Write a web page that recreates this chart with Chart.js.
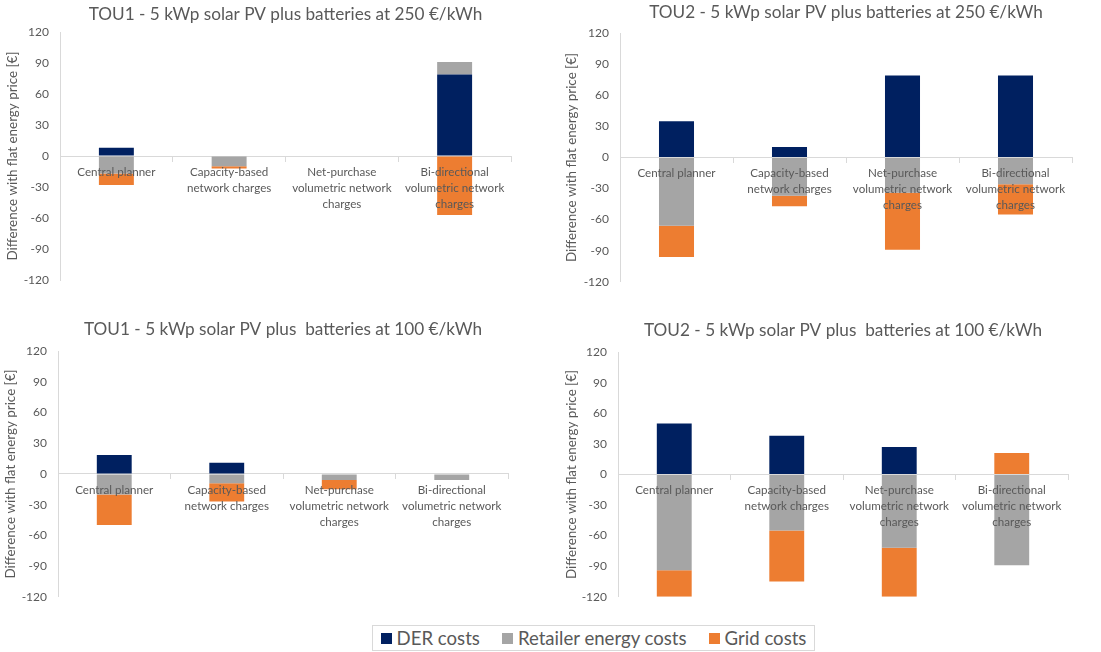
<!DOCTYPE html>
<html>
<head>
<meta charset="utf-8">
<script src="https://cdn.jsdelivr.net/npm/chart.js@4.4.0/dist/chart.umd.min.js"></script>
<style>
  body { margin: 0; background: #fff; width: 1101px; height: 652px; position: relative; overflow: hidden; font-family: Lato, sans-serif; }
  .panel { position: absolute; width: 550px; height: 300px; }
  .legend { position: absolute; left: 372px; top: 625px; width: 441px; height: 24px; border: 1px solid #D9D9D9;
            display: flex; align-items: center; justify-content: center; gap: 22px; color: #595959; font-size: 18.6px; }
  .legend span.sw { display: inline-block; width: 11px; height: 11px; margin-right: 5px; vertical-align: 1px; }
</style>
</head>
<body>
<div class="panel" style="left:0;top:0"><canvas id="c1"></canvas></div>
<div class="panel" style="left:550px;top:0"><canvas id="c2"></canvas></div>
<div class="panel" style="left:0;top:315px"><canvas id="c3"></canvas></div>
<div class="panel" style="left:550px;top:315px"><canvas id="c4"></canvas></div>
<div class="legend">
  <div><span class="sw" style="background:#002060"></span>DER costs</div>
  <div><span class="sw" style="background:#A5A5A5"></span>Retailer energy costs</div>
  <div><span class="sw" style="background:#ED7D31"></span>Grid costs</div>
</div>

<script>
// categories shared by all four charts
const categories = [
  ['Central planner'],
  ['Capacity-based', 'network charges'],
  ['Net-purchase', 'volumetric network', 'charges'],
  ['Bi-directional', 'volumetric network', 'charges']
];
const seriesNames = ['DER costs', 'Retailer energy costs', 'Grid costs'];
const yMin = -120, yMax = 120, yStep = 30;
const yTitle = 'Difference with flat energy price [€]';

// TOU1 - 250 €/kWh
const der1 = [8, 0, 0, 79];
const ret1 = [-17, -10, 0, 12];
const grid1 = [-11, -2, 0, -57];
// TOU2 - 250 €/kWh
const der2 = [35, 10, 79, 79];
const ret2 = [-66, -37, -34, -26];
const grid2 = [-30, -10, -55, -29];
// TOU1 - 100 €/kWh
const der3 = [18.5, 11, 0, 0];
const ret3 = [-20, -9, -6, -6];
const grid3 = [-30, -18, -9, 0];
// TOU2 - 100 €/kWh
const der4 = [50, 38, 27, 0];
const ret4 = [-94, -55, -72, -89];
const grid4 = [-26, -50, -48, 21];

const colors = ['#002060', '#A5A5A5', '#ED7D31'];
const txt = '#595959';
const line = '#D9D9D9';

function makeChart(id, title, series, p) {
  new Chart(document.getElementById(id), {
    type: 'bar',
    data: {
      labels: categories,
      datasets: series.map((d, i) => ({
        label: seriesNames[i],
        data: d,
        backgroundColor: colors[i],
        borderWidth: 0,
        categoryPercentage: 1,
        barPercentage: 0.31
      }))
    },
    options: {
      responsive: true,
      maintainAspectRatio: false,
      animation: false,
      layout: { padding: { left: 0, right: p.right, top: 0, bottom: p.bottom } },
      scales: {
        x: {
          stacked: true,
          position: { y: 0 },
          grid: { offset: true, drawOnChartArea: false, tickLength: 5, color: line },
          border: { color: line },
          ticks: { z: 1, color: txt, font: { family: 'Lato', size: 11.6, lineHeight: 1.38 }, maxRotation: 0, autoSkip: false, padding: 3 }
        },
        y: {
          stacked: true,
          min: yMin,
          max: yMax,
          ticks: { stepSize: yStep, color: txt, font: { family: 'Lato', size: 12 }, padding: 11 },
          grid: { drawOnChartArea: false, drawTicks: false },
          border: { color: line },
          title: { display: true, text: yTitle, color: txt, font: { family: 'Lato', size: 13.4 }, padding: { top: p.yt, bottom: 0 } },
          afterFit(scale) { scale.width = p.left; }
        }
      },
      plugins: {
        legend: { display: false },
        tooltip: { enabled: false },
        title: {
          display: true, text: title, fullSize: false, color: txt,
          font: { family: 'Lato', size: 17.2, weight: 'normal' },
          padding: { top: p.tt, bottom: p.tb }
        }
      }
    }
  });
}

makeChart('c1', 'TOU1 - 5 kWp solar PV plus batteries at 250 €/kWh', [der1, ret1, grid1],
  { left: 60, right: 39, bottom: 20, tt: 4, tb: 7.4, yt: 5 });
makeChart('c2', 'TOU2 - 5 kWp solar PV plus batteries at 250 €/kWh', [der2, ret2, grid2],
  { left: 70, right: 28, bottom: 18, tt: 2, tb: 10.4, yt: 14 });
makeChart('c3', 'TOU1 - 5 kWp solar PV plus  batteries at 100 €/kWh', [der3, ret3, grid3],
  { left: 58, right: 42, bottom: 17, tt: 4, tb: 11.4, yt: 3 });
makeChart('c4', 'TOU2 - 5 kWp solar PV plus  batteries at 100 €/kWh', [der4, ret4, grid4],
  { left: 68, right: 32, bottom: 16, tt: 5, tb: 11.4, yt: 14 });
</script>
</body>
</html>
